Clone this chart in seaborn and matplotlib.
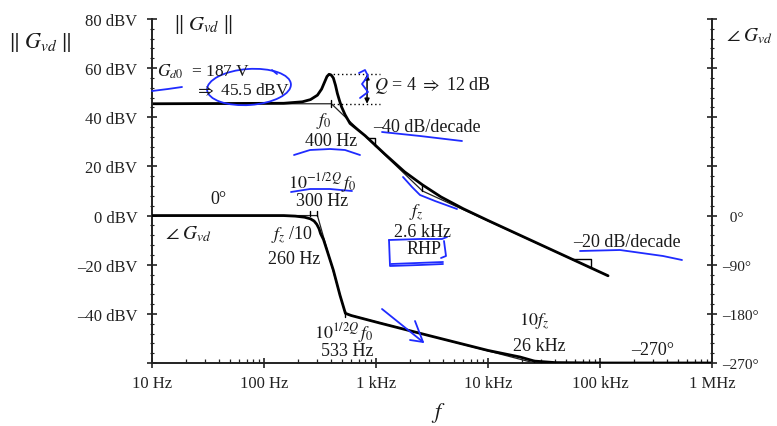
import numpy as np
import pandas as pd
import matplotlib
matplotlib.use("Agg")
import matplotlib.pyplot as plt
import seaborn as sns
from matplotlib.patches import Ellipse
from matplotlib.ticker import FixedLocator, LogLocator, NullFormatter

# ---- magnitude of G_vd (dBV) ----
mag_freq_hz = [10, 150, 220, 260, 300, 327, 345, 365, 381, 398, 416, 435, 452, 472,
               492, 530, 586, 800, 1200, 1800, 2600, 3800, 6000, 10000, 118000]
mag_dbv = [45.5, 45.7, 46.3, 47.2, 49.0, 51.5, 54.0, 56.6, 57.5, 57.2, 56.0, 53.0, 49.7, 46.8,
           44.3, 41.0, 37.5, 32.5, 25.0, 17.8, 12.5, 7.6, 2.8, -2.0, -24.5]
# magnitude asymptotes: f0 = 400 Hz, fz = 2.6 kHz
mag_asym_freq_hz = [10, 400, 2600, 118000]
mag_asym_dbv = [45.5, 45.5, 10.0, -24.5]

# ---- phase of G_vd (degrees) ----
phase_freq_hz = [10, 150, 190, 230, 260, 280, 296, 310, 320, 340, 363, 416, 477, 533, 600,
                 1090, 3000, 10000, 19300, 26000, 40000, 100000, 1000000]
phase_deg = [0, 0, -1, -3, -6, -10, -16, -24, -33, -44, -62, -100, -146, -179, -183,
             -197, -220, -247, -259, -266.5, -269.3, -270, -270]
# phase asymptotes: 300 Hz, 533 Hz, 26 kHz
phase_asym_freq_hz = [10, 300, 533, 26000, 1000000]
phase_asym_deg = [0, 0, -180, -270, -270]

x_tick_hz = [10, 100, 1000, 10000, 100000, 1000000]
x_tick_labels = ["10 Hz", "100 Hz", "1 kHz", "10 kHz", "100 kHz", "1 MHz"]
mag_ticks = [-60, -40, -20, 0, 20, 40, 60, 80]
mag_tick_labels = ["", "\u201340 dBV", "\u201320 dBV", "0 dBV", "20 dBV", "40 dBV", "60 dBV", "80 dBV"]
phase_ticks = [-270, -180, -90, 0, 90, 180, 270, 360]
phase_tick_labels = ["\u2013270\u00b0", "\u2013180\u00b0", "\u201390\u00b0", "  0\u00b0", "", "", "", ""]

sns.set_style("ticks")
plt.rcParams["font.family"] = ["Liberation Serif", "DejaVu Serif"]
plt.rcParams["mathtext.fontset"] = "stix"

INK = "#1f2bff"
TXT = "#1a1a1a"

fig = plt.figure(figsize=(7.77, 4.27), dpi=100)
fig.patch.set_facecolor("white")
W, H = 777, 427
ax = fig.add_axes([152 / W, 1 - 364 / H, 560 / W, 344 / H])
ax2 = ax.twinx()

mag_df = pd.DataFrame({"f": mag_freq_hz, "db": mag_dbv})
mag_asym_df = pd.DataFrame({"f": mag_asym_freq_hz, "db": mag_asym_dbv})
ph_df = pd.DataFrame({"f": phase_freq_hz, "deg": phase_deg})
ph_asym_df = pd.DataFrame({"f": phase_asym_freq_hz, "deg": phase_asym_deg})

sns.lineplot(data=mag_asym_df, x="f", y="db", ax=ax, color="#222222", lw=0.9,
             sort=False, estimator=None)
sns.lineplot(data=mag_df, x="f", y="db", ax=ax, color="black", lw=2.0,
             sort=False, estimator=None)
sns.lineplot(data=ph_asym_df, x="f", y="deg", ax=ax2, color="#222222", lw=0.9,
             sort=False, estimator=None)
sns.lineplot(data=ph_df, x="f", y="deg", ax=ax2, color="black", lw=2.0,
             sort=False, estimator=None)

for a in (ax, ax2):
    a.set_xscale("log")
    a.set_xlim(10, 1e6)
    a.set_xlabel("")
    a.set_ylabel("")
ax.set_ylim(-60, 80)
ax2.set_ylim(-270, 360)


def asym_db(f):
    return np.interp(np.log10(f), np.log10(mag_asym_freq_hz), mag_asym_dbv)


# corner marks on the magnitude asymptotes
f0, fz = mag_asym_freq_hz[1], mag_asym_freq_hz[2]
ax.plot([f0, f0], [44.3, 47.0], color="black", lw=1.0)
ax.plot([fz, fz], [asym_db(fz), asym_db(fz) + 2.6], color="black", lw=1.0)

# slope triangles
for fa, fb in ((830, 980), (56000, 83000)):
    ya, yb = asym_db(fa), asym_db(fb)
    ax.plot([fa, fb, fb], [ya, ya, yb], color="black", lw=1.0)

# resonant peak height
f_peak = mag_freq_hz[int(np.argmax(mag_dbv))]
peak = max(mag_dbv)
ax.plot([f_peak, 1086], [peak, peak], ls=(0, (1, 2)), color="black", lw=1.0)
ax.plot([413, 1086], [45.5, 45.5], ls=(0, (1, 2)), color="black", lw=1.0)
ax.annotate("", xy=(832, 45.5), xytext=(832, peak),
            arrowprops=dict(arrowstyle="<|-|>", color="black", lw=1.1,
                            mutation_scale=7, shrinkA=0, shrinkB=0))

# corner marks on the phase asymptotes
for fm in (260, 300):
    ax2.plot([fm, fm], [0, 9], color="black", lw=1.0)
for fm, d in ((533, -180), (26000, -270)):
    ax2.plot([fm, fm], [d - 5, d + 5], color="black", lw=1.0)

# axes styling
ax.spines["top"].set_visible(False)
ax.spines["right"].set_visible(False)
for s in ("top", "left", "bottom"):
    ax2.spines[s].set_visible(False)
for s in ("left", "bottom"):
    ax.spines[s].set_linewidth(1.4)
    ax.spines[s].set_color("#222222")
ax2.spines["right"].set_linewidth(1.4)
ax2.spines["right"].set_color("#222222")

ax.xaxis.set_major_locator(FixedLocator(x_tick_hz))
ax.set_xticklabels(x_tick_labels)
ax.xaxis.set_minor_locator(LogLocator(base=10, subs=np.arange(2, 10)))
ax.xaxis.set_minor_formatter(NullFormatter())
ax.tick_params(axis="x", which="major", direction="inout", length=7, width=1.2,
               labelsize=12, pad=5, colors="#222222")
ax.tick_params(axis="x", which="minor", direction="in", length=3, width=0.9, colors="#222222")

ax.yaxis.set_major_locator(FixedLocator(mag_ticks))
ax.set_yticklabels(mag_tick_labels)
ax.yaxis.set_minor_locator(FixedLocator(np.arange(-60, 81, 4)))
ax.tick_params(axis="y", which="major", direction="inout", length=7, width=1.2,
               labelsize=12, pad=7, colors="#222222")
ax.tick_params(axis="y", which="minor", direction="inout", length=3, width=0.8, colors="#222222")

ax2.yaxis.set_major_locator(FixedLocator(phase_ticks))
ax2.set_yticklabels(phase_tick_labels)
ax2.yaxis.set_minor_locator(FixedLocator(np.arange(-270, 361, 18)))
ax2.tick_params(axis="y", which="major", direction="inout", length=7, width=1.2,
                labelsize=11, pad=4, colors="#222222")
ax2.tick_params(axis="y", which="minor", direction="inout", length=3, width=0.8, colors="#222222")
ax2.tick_params(axis="x", which="both", length=0)

# overlay in pixel units for labels and handwritten ink
ov = fig.add_axes([0, 0, 1, 1], zorder=10)
ov.set_xlim(0, W)
ov.set_ylim(H, 0)
ov.axis("off")
ov.patch.set_alpha(0)

labels = [
    (40, 42, r"$\Vert\;G_{vd}\;\Vert$", 16, "center"),
    (203, 25, r"$\Vert\;G_{vd}\;\Vert$", 15, "center"),
    (749, 36, r"$\angle\;G_{vd}$", 14, "center"),
    (157, 72, r"$G_{d0}$  = 187 V", 12.5, "left"),
    (195, 91, r"$\Rightarrow$ 45.5 dBV", 12.5, "left"),
    (374, 85, r"$Q$ = 4 $\Rightarrow$ 12 dB", 13, "left"),
    (324, 121, r"$f_0$", 13, "center"),
    (331, 142, "400 Hz", 13, "center"),
    (373, 128, "\u201340 dB/decade", 13, "left"),
    (322, 183, r"$10^{-1/2Q}\,f_0$", 13, "center"),
    (322, 202, "300 Hz", 13, "center"),
    (218, 200, "0\u00b0", 13, "center"),
    (188, 234, r"$\angle\;G_{vd}$", 14, "center"),
    (292, 235, r"$f_z$ /10", 13, "center"),
    (294, 260, "260 Hz", 13, "center"),
    (416, 213, r"$f_z$", 13, "center"),
    (422, 233, "2.6 kHz", 13, "center"),
    (424, 250, "RHP", 13, "center"),
    (627, 243, "\u201320 dB/decade", 13, "center"),
    (344, 333, r"$10^{1/2Q}\,f_0$", 13, "center"),
    (347, 352, "533 Hz", 13, "center"),
    (534, 322, r"$10f_z$", 13, "center"),
    (539, 347, "26 kHz", 13, "center"),
    (653, 351, "\u2013270\u00b0", 13, "center"),
    (438, 413, r"$f$", 16, "center"),
]
for x, y, s, fs, ha in labels:
    ov.text(x, y, s, fontsize=fs, ha=ha, va="center", color=TXT)

ink_strokes = [
    [(152, 92), (168, 90), (182, 88)],
    [(272, 71), (277, 75)],
    [(359, 74), (365, 71), (368, 77), (362, 85), (368, 93), (360, 99)],
    [(294, 156), (310, 151), (330, 150), (345, 151), (360, 156)],
    [(382, 133), (420, 137), (462, 142)],
    [(291, 193), (310, 190), (330, 190), (352, 192)],
    [(403, 178), (412, 188), (420, 196), (435, 202), (457, 210)],
    [(389, 241), (420, 240), (442, 240), (447, 238)],
    [(389, 241), (390, 267), (420, 266), (443, 265)],
    [(391, 265), (443, 263)],
    [(444, 242), (446, 257), (441, 259)],
    [(580, 252), (620, 251), (663, 257), (682, 261)],
    [(382, 310), (423, 343)],
    [(415, 322), (423, 343), (410, 341)],
]
for stroke in ink_strokes:
    xs, ys = zip(*stroke)
    ov.plot(xs, ys, color=INK, lw=1.3, solid_capstyle="round", solid_joinstyle="round")
ov.add_patch(Ellipse((249, 88), 84, 36, angle=-4, fill=False, edgecolor=INK, lw=1.3))

fig.savefig("out.png", dpi=100, facecolor="white")
